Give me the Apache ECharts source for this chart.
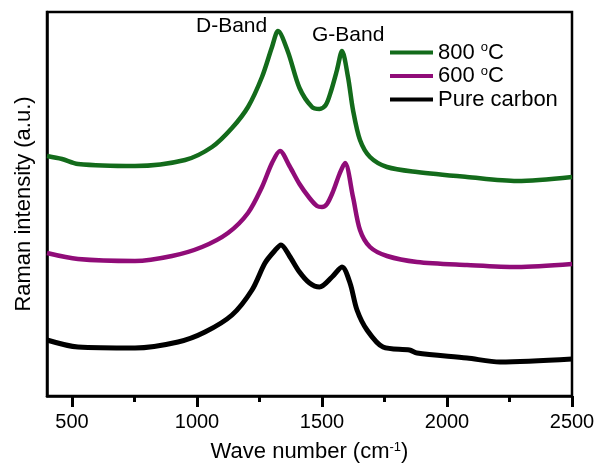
<!DOCTYPE html>
<html>
<head>
<meta charset="utf-8">
<script src="https://cdn.jsdelivr.net/npm/echarts@6/dist/echarts.min.js"></script>
<style>
  html, body { margin: 0; padding: 0; background: #fff; }
  #chart { width: 598px; height: 463px; }
</style>
</head>
<body>
<div id="chart"></div>
<script>
// values (arbitrary intensity units, curves offset)
const wn800 = [400, 460, 524, 752, 952, 1060, 1140, 1204, 1260, 1300, 1324, 1364, 1410, 1460, 1490, 1515, 1535, 1560, 1580, 1604, 1624, 1652, 1692, 1760, 1880, 2080, 2280, 2500]
const int800 = [240, 237, 232, 230, 236, 249, 268, 289, 319, 349, 365, 344, 308, 289, 287, 291, 304, 326, 345, 319, 286, 256, 239, 229, 224, 219, 215, 219]

const wn600 = [400, 524, 752, 900, 1020, 1124, 1204, 1260, 1300, 1332, 1370, 1410, 1450, 1480, 1500, 1520, 1545, 1570, 1592, 1624, 1652, 1692, 1760, 1880, 2080, 2280, 2500]
const int600 = [143, 137, 135, 140, 149, 163, 183, 209, 233, 245, 230, 212, 198, 190, 189, 192, 205, 222, 233, 199, 166, 149, 140, 134, 131, 129, 132]

const wnPure = [400, 524, 752, 924, 1032, 1140, 1220, 1272, 1310, 1336, 1370, 1410, 1450, 1490, 1540, 1580, 1612, 1640, 1680, 1744, 1850, 1880, 2080, 2212, 2500]
const intPure = [56, 49, 48, 54, 64, 81, 106, 133, 145, 151, 140, 124, 113, 109, 119, 129, 113, 86, 66, 49, 46, 43, 38, 34, 37]

const majorTicks = [500, 1000, 1500, 2000, 2500]
const minorTicks = [750, 1250, 1750, 2250]

const seriesNames = ['800 oC', '600 oC', 'Pure carbon']
const colors = ['#136b1b', '#900c78', '#000000']

const zip = (xs, ys) => xs.map((x, i) => [x, ys[i]])

const chart = echarts.init(document.getElementById('chart'))
const font = 'Liberation Sans, Arial, sans-serif'
const supStyle = { fontFamily: font, fontSize: 13, color: '#000', verticalAlign: 'top', lineHeight: 13 }
const gridBox = { left: 47, right: 26, top: 12, bottom: 67, containLabel: false, outerBoundsMode: 'none' }

const lineSeries = (name, data, color, width) => ({
  name: name,
  type: 'line',
  data: data,
  smooth: 0.3,
  symbol: 'none',
  lineStyle: { color: color, width: width },
  itemStyle: { color: color }
})

const option = {
  animation: false,
  grid: [
    Object.assign({ show: true, borderColor: '#000', borderWidth: 2.5 }, gridBox),
    // same box, only used for the minor ticks
    Object.assign({ show: false }, gridBox)
  ],
  legend: {
    orient: 'vertical',
    left: 390, top: 41,
    padding: 0,
    itemGap: 0.5,
    itemWidth: 43, itemHeight: 4,
    icon: 'rect',
    data: seriesNames,
    formatter: name => name.replace(' oC', ' {sup|o}C'),
    textStyle: {
      fontFamily: font, fontSize: 22, color: '#000', lineHeight: 23,
      rich: { sup: supStyle }
    }
  },
  xAxis: [
    {
      type: 'value', min: 400, max: 2500,
      splitLine: { show: false },
      axisLine: { lineStyle: { color: '#000', width: 2.5 } },
      axisTick: { customValues: majorTicks, length: 11, lineStyle: { color: '#000', width: 3 } },
      axisLabel: { customValues: majorTicks, formatter: v => String(v), margin: 16, fontFamily: font, fontSize: 20, color: '#000' },
      name: 'Wave number (cm{sup|-1})',
      nameLocation: 'middle',
      nameGap: 45,
      nameTextStyle: { fontFamily: font, fontSize: 22, color: '#000', rich: { sup: supStyle } }
    },
    {
      gridIndex: 1,
      type: 'value', min: 400, max: 2500, position: 'bottom',
      splitLine: { show: false },
      axisLine: { show: false },
      axisTick: { customValues: minorTicks, length: 6, lineStyle: { color: '#000', width: 3 } },
      axisLabel: { show: false }
    }
  ],
  yAxis: [
    {
      type: 'value', min: 0, max: 384,
      splitLine: { show: false },
      axisLine: { show: true, lineStyle: { color: '#000', width: 2.5 } },
      axisTick: { show: false },
      axisLabel: { show: false },
      name: 'Raman intensity (a.u.)',
      nameLocation: 'middle',
      nameGap: 12,
      nameTextStyle: { fontFamily: font, fontSize: 22, color: '#000' }
    },
    {
      gridIndex: 1,
      type: 'value', min: 0, max: 384, show: false
    }
  ],
  graphic: [
    { type: 'text', left: 196, top: 16, style: { text: 'D-Band', font: '21px ' + font, fill: '#000' } },
    { type: 'text', left: 312, top: 25, style: { text: 'G-Band', font: '21px ' + font, fill: '#000' } }
  ],
  series: [
    lineSeries(seriesNames[0], zip(wn800, int800), colors[0], 4.5),
    lineSeries(seriesNames[1], zip(wn600, int600), colors[1], 4.5),
    lineSeries(seriesNames[2], zip(wnPure, intPure), colors[2], 5)
  ]
}

chart.setOption(option)
</script>
</body>
</html>
